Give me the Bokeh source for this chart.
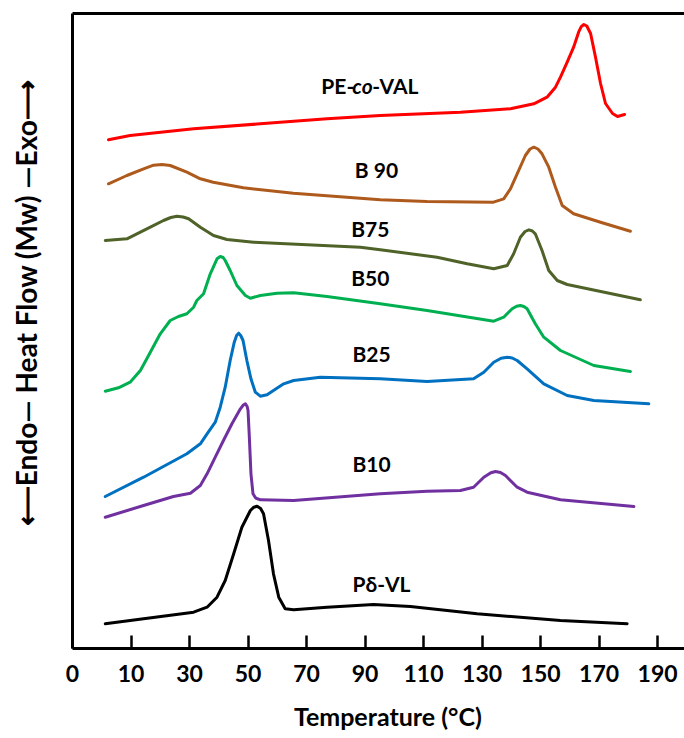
from bokeh.plotting import figure
from bokeh.models import LinearAxis, FixedTicker, Range1d
from bokeh.core.properties import value
from bokeh.embed import file_html
from bokeh.resources import INLINE

# ---- data (temperature in deg C, heat flow in arbitrary units) ----
pe_t = [2.3, 9.7, 31.4, 54.2, 77.0, 95.2, 122.6, 139.7, 147.7, 152.2, 155.1, 156.8, 159.1, 161.3, 163.0,
        163.9, 164.8, 165.8, 167.1, 168.8, 170.5, 172.2, 174.6, 176.3, 178.7]
pe_h = [508.7, 513, 519.7, 524.7, 529.7, 533, 536.3, 539.7, 544.7, 551.3, 561.3, 571.3, 586.3, 601.3, 616.3,
        621.8, 624, 622.5, 615, 591, 565, 545, 535, 532, 534]

b90_t = [2.3, 8.6, 14.3, 17.7, 20.6, 23.4, 29.1, 33.7, 38.1, 48.4, 65.5, 95.2, 111.2, 133.9, 137.4, 139.7,
         142.0, 144.8, 146.4, 147.7, 149.1, 150.5, 152.8, 155.1, 157.4, 161.3, 170.5, 180.7]
b90_h = [464.7, 473, 479.7, 483.3, 484, 483, 476.3, 469.7, 466.3, 460.7, 455.3, 448.7, 447, 446.3, 449.7, 459.7,
         474.7, 493, 499.5, 501.3, 499.5, 494.7, 481.3, 461.3, 443, 434.7, 426.3, 417.3]

b75_t = [1.2, 8.6, 13.2, 16.6, 21.1, 23.6, 25.7, 27.8, 29.7, 33.7, 38.2, 42.8, 51.9, 88.4, 95.2, 114.6, 124.9,
         134.0, 138.6, 140.8, 143.1, 144.7, 146.0, 147.2, 148.2, 150.5, 152.8, 155.7, 159.1, 184.1]
b75_h = [408, 409.7, 416.3, 421.3, 428, 431, 432.3, 431.5, 429.7, 421.3, 413, 409, 406.3, 401.3, 398.7, 391.3, 384.7,
         379.7, 383, 394.7, 411.3, 417, 418.7, 417.5, 414.7, 398, 378, 368, 364, 348.7]

b50_t = [1.2, 5.7, 9.7, 13.2, 15.4, 20.0, 23.4, 26.2, 29.1, 31.4, 32.5, 34.8, 37.1, 39.4, 40.5, 41.5, 42.2, 43.9,
         46.2, 49.1, 50.8, 54.2, 59.9, 65.6, 77.0, 95.2, 111.2, 134.0, 137.4, 140.3, 141.8, 143.1, 144.3, 145.4,
         148.2, 151.1, 156.8, 168.2, 180.7]
b50_h = [257.3, 260.7, 266.3, 278, 289.7, 314.7, 328, 332, 334.7, 341.3, 348, 354.7, 374.7, 389.7, 392, 391, 388, 378,
         363, 353, 350.3, 353, 355.3, 355.7, 352, 344.7, 338, 327.3, 331.3, 339.7, 342.3, 343, 342, 339.7,
         324.7, 311.3, 298, 283, 277]

b25_t = [1.2, 14.3, 29.1, 33.7, 36.0, 38.8, 40.5, 42.2, 43.9, 45.3, 46.1, 46.8, 47.5, 48.3, 49.6, 51.0, 52.5, 54.2,
         56.5, 58.7, 62.2, 65.6, 74.7, 95.2, 111.2, 127.1, 130.6, 134.0, 136.5, 138.6, 140.3, 142.0, 145.4, 151.1,
         159.1, 168.2, 187.0]
b25_h = [152, 171.3, 194.7, 204.7, 214.7, 226.3, 241.3, 261.3, 288, 306.3, 313, 315.3, 313, 308, 288, 269.7, 256.3, 252.3,
         253.7, 258, 264.7, 268, 271.3, 269.7, 267, 269.7, 276.3, 286.3, 290.3, 291.3, 290.5, 288, 279.7, 264.7,
         253, 248, 244.7]

b10_t = [1.2, 14.3, 24.5, 30.3, 33.7, 36.0, 38.8, 41.6, 44.5, 47.4, 48.4, 49.1, 49.7, 50.0, 50.4, 51.0, 51.7, 52.6,
         54.2, 65.6, 95.2, 111.2, 122.6, 127.1, 130.6, 133.0, 134.6, 136.3, 138.0, 142.0, 145.4, 156.8, 181.9]
b10_h = [131.3, 143, 152, 155.3, 163, 174.7, 191.3, 208, 224.7, 239.7, 243.5, 244.7, 242, 238, 214.7, 174.7, 154.7, 150.5,
         148.7, 148, 154.7, 157.3, 158, 161.3, 171.3, 175.8, 177, 176, 173, 161.3, 156.3, 148.7, 142]

pvl_t = [1.2, 14.3, 31.4, 36.0, 39.4, 42.2, 45.1, 47.9, 50.8, 52.0, 53.1, 54.3, 55.3, 57.0, 58.7, 60.5, 62.7, 65.6,
         77.0, 92.9, 105.5, 128.3, 156.8, 179.6]
pvl_h = [24.7, 29.7, 36.3, 41.3, 51.3, 68, 94.7, 121.3, 138, 141.3, 142.3, 140, 134.7, 108, 74.7, 51.3, 39.7, 38.7,
         41.3, 44, 42, 34.7, 28, 24.7]

series_t = [pe_t, b90_t, b75_t, b50_t, b25_t, b10_t, pvl_t]
series_h = [pe_h, b90_h, b75_h, b50_h, b25_h, b10_h, pvl_h]
series_colors = ["#FF0000", "#AE5A1C", "#4F6228", "#00B050", "#0070C0", "#7030A0", "#000000"]

# simple labels (centered)
lab_text = ["B 90", "B75", "B50", "B25", "B10", "P\u03b4-VL"]
lab_t = [93.9, 91.8, 91.8, 92.2, 92.2, 95.6]
lab_h = [479, 420, 371, 295, 185, 65]

# PE-co-VAL label in three parts (left aligned)
pe_parts = ["PE-", "co", "-VAL"]
pe_parts_t = [75.05, 85.66, 92.5]
pe_parts_style = ["bold", "bold italic", "bold"]
pe_label_h = 563

tick_values = [-10, 10, 30, 50, 70, 90, 110, 130, 150, 170, 190]
tick_overrides = {-10: "0"}

FONT = "Lato"

p = figure(width=684, height=738, output_backend="svg", toolbar_location=None,
           x_range=Range1d(-10, 199.2), y_range=Range1d(0, 635),
           min_border_left=72, min_border_right=0, min_border_top=13, min_border_bottom=90)
p.outline_line_color = None
p.grid.grid_line_color = None
p.background_fill_color = "white"
p.border_fill_color = "white"

for t, h, c in zip(series_t, series_h, series_colors):
    p.line(t, h, line_color=c, line_width=3, line_join="round", line_cap="round")

p.text(x=lab_t, y=lab_h, text=lab_text, text_font=value(FONT), text_font_style="bold",
       text_font_size="21px", text_align="center", text_baseline="middle", text_color="black")

for txt, tx, st in zip(pe_parts, pe_parts_t, pe_parts_style):
    p.text(x=[tx], y=[pe_label_h], text=[txt], text_font=value(FONT), text_font_style=st,
           text_font_size="21px", text_align="left", text_baseline="middle", text_color="black")

# x axis
xa = p.xaxis[0]
xa.ticker = FixedTicker(ticks=tick_values)
xa.major_label_overrides = tick_overrides
xa.minor_tick_line_color = None
xa.major_tick_in = 13
xa.major_tick_out = 0
xa.major_tick_line_width = 2.5
xa.axis_line_width = 3
xa.axis_line_color = "black"
xa.major_label_text_font = FONT
xa.major_label_text_font_style = "bold"
xa.major_label_text_font_size = "23px"
xa.major_label_text_color = "black"
xa.major_label_standoff = 16
xa.axis_label = "\u2003Temperature (\u00b0C)"
xa.axis_label_text_font = FONT
xa.axis_label_text_font_style = "bold"
xa.axis_label_text_font_size = "25px"
xa.axis_label_text_color = "black"
xa.axis_label_standoff = 16

# y axis: line + label only
ya = p.yaxis[0]
ya.ticker = FixedTicker(ticks=[])
ya.minor_tick_line_color = None
ya.major_tick_line_color = None
ya.major_tick_out = 0
ya.major_tick_in = 0
ya.major_label_text_font_size = "0px"
ya.major_label_standoff = 0
ya.axis_line_width = 3
ya.axis_line_color = "black"
ya.axis_label = "\u2003\u2003\u2002\u27f5Endo\u2014 Heat Flow (Mw) \u2014Exo\u27f6"
ya.axis_label_text_font = FONT
ya.axis_label_text_font_style = "bold"
ya.axis_label_text_font_size = "28px"
ya.axis_label_text_color = "black"
ya.axis_label_standoff = 30

# top border
top = LinearAxis(ticker=FixedTicker(ticks=[]), axis_line_width=3, axis_line_color="black",
                 major_tick_line_color=None, minor_tick_line_color=None,
                 major_label_text_font_size="0px", major_label_standoff=0,
                 major_tick_out=0, major_tick_in=0)
p.add_layout(top, "above")

open("out.html", "w").write(file_html(p, INLINE))
